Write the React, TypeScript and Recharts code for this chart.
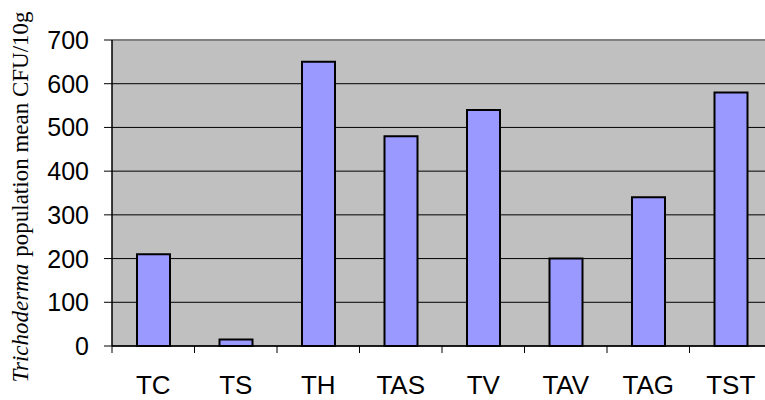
import React from 'react';
import { BarChart, Bar, XAxis, YAxis, CartesianGrid, ReferenceLine } from 'recharts';

const categories = ['TC', 'TS', 'TH', 'TAS', 'TV', 'TAV', 'TAG', 'TST'];
const populationValues = [210, 15, 650, 480, 540, 200, 340, 580];
const yTicks = [0, 100, 200, 300, 400, 500, 600, 700];

const data = categories.map((name, i) => ({ name, value: populationValues[i] }));

const AXIS_FONT = '"Liberation Sans", Arial, sans-serif';

const XTick = (props: any) => {
  const { x, y, payload } = props;
  const half = payload && typeof payload.offset === 'number' && payload.offset > 0 ? payload.offset : 41.25;
  const bx = x - half;
  return (
    <g>
      <line x1={bx} y1={y} x2={bx} y2={y + 7} stroke="#000" strokeWidth={1} />
      <text x={x} y={y + 48} textAnchor="middle" fontFamily={AXIS_FONT} fontSize={26} fill="#000">
        {payload.value}
      </text>
    </g>
  );
};

const YTick = (props: any) => {
  const { x, y, payload } = props;
  return (
    <text x={x} y={y + 9} textAnchor="end" fontFamily={AXIS_FONT} fontSize={25} fill="#000">
      {payload.value}
    </text>
  );
};

const YLabel = () => (
  <text
    x={28}
    y={197}
    transform="rotate(-90 28 197)"
    textAnchor="middle"
    fontFamily='"Liberation Serif", "Times New Roman", serif'
    fontSize={23}
    fill="#000"
  >
    <tspan fontStyle="italic">Trichoderma</tspan>
    <tspan dx={7}>population mean CFU/10g</tspan>
  </text>
);

export default function App() {
  return (
    <div style={{ position: 'absolute', left: 0, top: 0, width: 765, height: 400, overflow: 'hidden', background: '#fff' }}>
      <BarChart
        width={800}
        height={400}
        data={data}
        margin={{ top: 40, right: 28, left: 0, bottom: 0 }}
        barCategoryGap={0}
      >
        <CartesianGrid vertical={false} horizontal={true} fill="#C0C0C0" stroke="#000" strokeWidth={1} />
        <XAxis
          dataKey="name"
          height={54}
          axisLine={{ stroke: '#000', strokeWidth: 1.5 }}
          tickLine={false}
          tickSize={0}
          tickMargin={0}
          tick={<XTick />}
          interval={0}
        />
        <YAxis
          width={112}
          domain={[0, 700]}
          ticks={yTicks}
          interval={0}
          axisLine={{ stroke: '#000', strokeWidth: 1.5 }}
          tickLine={{ stroke: '#000' }}
          tickSize={8}
          tickMargin={15}
          tick={<YTick />}
          label={{ content: <YLabel /> }}
        />
        <ReferenceLine y={700} stroke="#808080" strokeWidth={2} />
        <Bar dataKey="value" fill="#9999FF" stroke="#000" strokeWidth={2} barSize={33} isAnimationActive={false} />
      </BarChart>
    </div>
  );
}
